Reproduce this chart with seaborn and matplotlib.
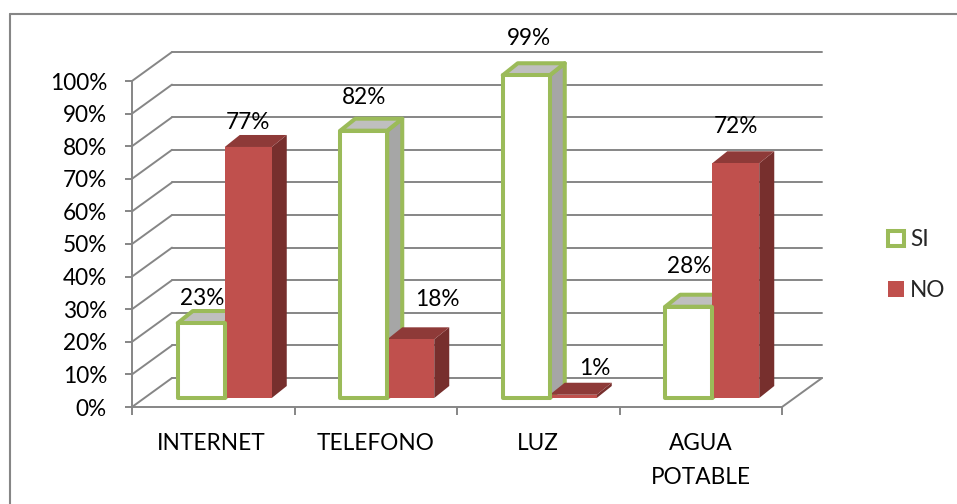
import pandas as pd
import matplotlib
matplotlib.use("Agg")
import matplotlib.pyplot as plt
import seaborn as sns
from matplotlib.lines import Line2D
from matplotlib.patches import Patch, Polygon
from matplotlib.transforms import ScaledTranslation

categories = ["INTERNET", "TELEFONO", "LUZ", "AGUA\nPOTABLE"]
si_values = [23, 82, 99, 28]
no_values = [77, 18, 1, 72]
percent_ticks = list(range(0, 101, 10))

GRAY = "#868686"
GREEN = "#9BBB59"
RED = "#C0504D"
RED_TOP = "#8E3A38"
RED_SIDE = "#772F2D"
SI_TOP = "#BFBFBF"
SI_SIDE = "#A6A6A6"
FONT_SIZE = 16.3

# label nudges in pixels from the top centre of each bar
si_nudge = [(1, 25), (0, 33), (3, 37), (0, 40)]
no_nudge = [(0, 24), (27, 40), (22, 26), (0, 37)]
# category labels are not quite centred under their slots
cat_nudge = [-2, 0, 0, 0]


def main():
    df = pd.DataFrame({
        "categoria": categories * 2,
        "serie": ["SI"] * 4 + ["NO"] * 4,
        "valor": si_values + no_values,
    })

    sns.set_theme(style="white")
    plt.rcParams["font.family"] = ["Lato", "DejaVu Sans"]

    fig = plt.figure(figsize=(9.57, 5.04), dpi=100)
    ax = fig.add_axes([132 / 957, (504 - 407) / 504, 650 / 957, 326 / 504])
    ax.patch.set_alpha(0)

    sns.barplot(
        data=df, x="categoria", y="valor", hue="serie",
        palette={"SI": "white", "NO": RED}, saturation=1,
        width=47 * 2 / 162.5, gap=0, legend=False, ax=ax,
    )
    ax.set_xlim(-0.5, 3.5)
    ax.set_ylim(0, 100)
    ax.set_xlabel("")
    ax.set_ylabel("")

    # pixel sizes turned into data units
    px_x = 1 / 162.5
    px_y = 100 / 326
    wall_dx, wall_dy = 40 * px_x, 29 * px_y
    bar_dx, bar_dy = 15 * px_x, 12 * px_y

    # back wall and side wall lines
    for p in percent_ticks:
        ax.plot([-0.5, -0.5 + wall_dx], [p, p + wall_dy], color=GRAY, lw=1.4,
                clip_on=False, zorder=1, solid_capstyle="round")
        ax.plot([-0.5 + wall_dx, 3.5 + wall_dx], [p + wall_dy, p + wall_dy],
                color=GRAY, lw=1.4, clip_on=False, zorder=1)
    ax.plot([3.5, 3.5 + wall_dx], [0, wall_dy], color=GRAY, lw=1.4,
            clip_on=False, zorder=1)

    # bars sit a bit inside the floor
    bar_tr = ax.transData + ScaledTranslation(11.5 / 100, 9 / 100, fig.dpi_scale_trans)

    def faces(bar, top_color, side_color, edge, lw, z):
        x0, w, h = bar.get_x(), bar.get_width(), bar.get_height()
        x1 = x0 + w
        top = [(x0, h), (x1, h), (x1 + bar_dx, h + bar_dy), (x0 + bar_dx, h + bar_dy)]
        side = [(x1, 0), (x1 + bar_dx, bar_dy), (x1 + bar_dx, h + bar_dy), (x1, h)]
        for pts, col in [(side, side_color), (top, top_color)]:
            ax.add_patch(Polygon(pts, closed=True, facecolor=col, edgecolor=edge,
                                 lw=lw, transform=bar_tr, clip_on=False, zorder=z,
                                 joinstyle="round"))

    si_bars, no_bars = ax.containers
    for bar in si_bars:
        faces(bar, SI_TOP, SI_SIDE, GREEN, 2.9, 3)
        bar.set_transform(bar_tr)
        bar.set_edgecolor(GREEN)
        bar.set_linewidth(2.9)
        bar.set_joinstyle("round")
        bar.set_clip_on(False)
        bar.set_zorder(5)
    for bar in no_bars:
        faces(bar, RED_TOP, RED_SIDE, "none", 0, 4)
        bar.set_transform(bar_tr)
        bar.set_linewidth(0)
        bar.set_clip_on(False)
        bar.set_zorder(4.5)

    # value labels
    for bars, values, nudges in [(si_bars, si_values, si_nudge), (no_bars, no_values, no_nudge)]:
        for bar, v, (nx, ny) in zip(bars, values, nudges):
            ax.annotate(
                f"{v}%", xy=(bar.get_x() + bar.get_width() / 2, v), xycoords=bar_tr,
                xytext=(nx * 0.72, ny * 0.72), textcoords="offset points",
                ha="center", va="center", fontsize=FONT_SIZE, color="black",
                annotation_clip=False, zorder=6,
            )

    # axes
    for name in ["top", "right"]:
        ax.spines[name].set_visible(False)
    for name in ["left", "bottom"]:
        ax.spines[name].set_color(GRAY)
        ax.spines[name].set_linewidth(1.4)
        ax.spines[name].set_zorder(1)

    ax.set_yticks(percent_ticks)
    ax.set_yticklabels([f"{p}%" for p in percent_ticks])
    ax.tick_params(axis="y", left=True, length=5, width=1.4, color=GRAY,
                   pad=13, labelsize=FONT_SIZE, labelcolor="black")

    ax.set_xticks([-0.5, 0.5, 1.5, 2.5, 3.5])
    ax.set_xticklabels([])
    ax.set_xticks([0, 1, 2, 3], minor=True)
    ax.set_xticklabels(categories, minor=True, linespacing=1.75)
    ax.tick_params(axis="x", which="major", bottom=True, length=6, width=1.4, color=GRAY)
    ax.tick_params(axis="x", which="minor", bottom=False, length=0, pad=19,
                   labelsize=FONT_SIZE, labelcolor="black")
    for label, nudge in zip(ax.get_xticklabels(minor=True), cat_nudge):
        label.set_transform(label.get_transform()
                            + ScaledTranslation(nudge / 100, 0, fig.dpi_scale_trans))

    handles = [
        Patch(facecolor="white", edgecolor=GREEN, linewidth=2.9, label="SI"),
        Patch(facecolor=RED, edgecolor="none", label="NO"),
    ]
    fig.legend(
        handles=handles, loc="center left", bbox_to_anchor=(888 / 957, 1 - 265 / 504),
        frameon=False, fontsize=FONT_SIZE, handlelength=0.7, handleheight=0.7,
        handletextpad=0.27, labelspacing=1.29, borderpad=0, borderaxespad=0,
    )

    # outer chart border, only top and left show in the crop
    fig.add_artist(Line2D([10 / 957, 1], [1 - 14 / 504] * 2, color=GRAY, lw=1.5))
    fig.add_artist(Line2D([10 / 957] * 2, [0, 1 - 14 / 504], color=GRAY, lw=1.5))

    fig.savefig("out.png", dpi=100)


if __name__ == "__main__":
    main()
